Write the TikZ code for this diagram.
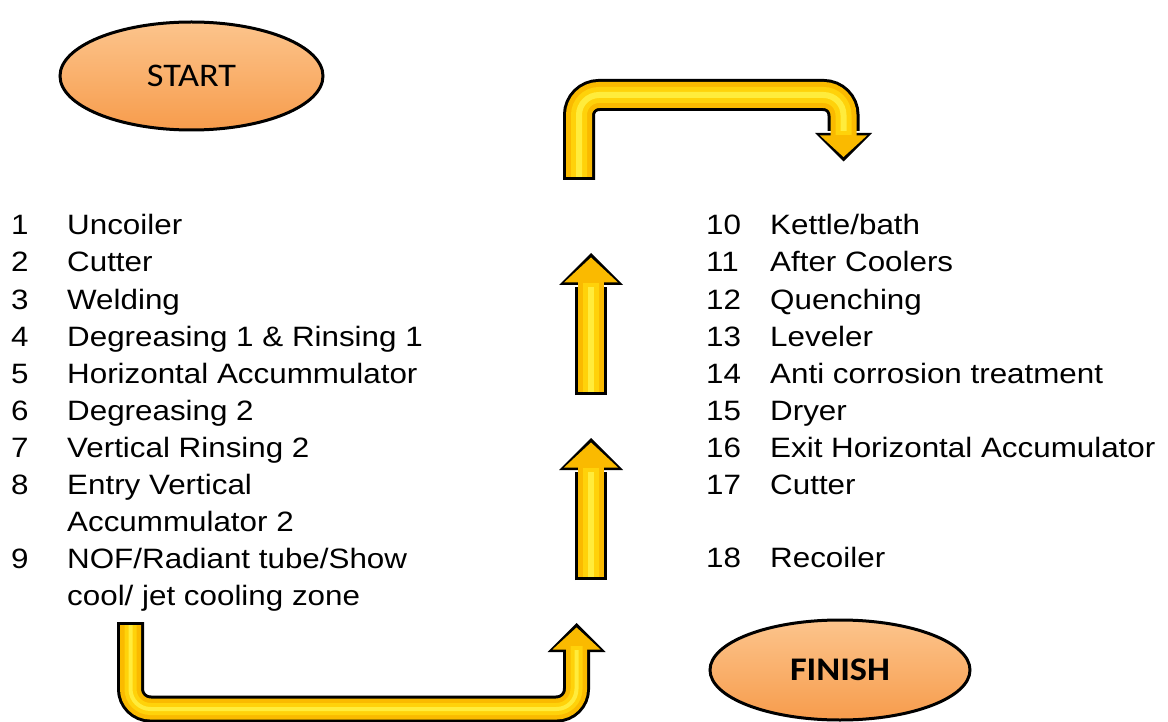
\documentclass[tikz,border=0pt]{standalone}
\usepackage{fontspec}
\setmainfont{Liberation Sans}[FakeStretch=1.12]
\newfontfamily\ovalfont{Carlito}[FakeStretch=1.1]
\usetikzlibrary{shapes.geometric,positioning}
\definecolor{ovalorange}{RGB}{247,156,76}
\definecolor{ovallight}{RGB}{252,196,140}
\definecolor{pipegold}{RGB}{250,186,0}
\definecolor{pipemid}{RGB}{255,210,10}
\definecolor{pipeshine}{RGB}{255,236,60}
\tikzset{
  oval/.style={ellipse, draw=black, line width=3pt, top color=ovallight,
    bottom color=ovalorange, inner sep=0pt, font=\ovalfont\fontsize{33}{33}\selectfont},
  num/.style={anchor=base west, inner sep=0pt, font=\fontsize{28}{37}\selectfont},
  stepitem/.style={anchor=base west, inner sep=0pt, align=left,
    font=\fontsize{28}{37}\selectfont},
  pipeedge/.style={draw=black, line width=32pt, rounded corners=20pt},
  pipebody/.style={draw=pipegold, line width=26pt, rounded corners=20pt},
  pipemiddle/.style={draw=pipemid, line width=16pt, rounded corners=20pt},
  pipeglow/.style={draw=pipeshine, line width=6pt, rounded corners=20pt},
}
% arrow heads: x, base y, half width
\newcommand\headup[3]{%
  \fill[black] (#1-#3,#2) -- (#1,#2-#3) -- (#1+#3,#2) -- cycle;
  \fill[pipegold] (#1-#3+5,#2-2.5) -- (#1,#2-#3+4.5) -- (#1+#3-5,#2-2.5) -- cycle;}
\newcommand\headdown[3]{%
  \fill[black] (#1-#3,#2) -- (#1,#2+#3) -- (#1+#3,#2) -- cycle;
  \fill[pipegold] (#1-#3+5,#2+2.5) -- (#1,#2+#3-4.5) -- (#1+#3-5,#2+2.5) -- cycle;}

\begin{document}
\begin{tikzpicture}[x=1pt, y=-1pt]
  \useasboundingbox (0,0) rectangle (1168,722);

  \node[oval, minimum width=263pt, minimum height=108pt] (start) at (191.5,76) {START};
  \node[oval, minimum width=260pt, minimum height=100pt,
    font=\ovalfont\bfseries\fontsize{33}{33}\selectfont] (finish) at (840,670) {FINISH};

  % left column (two-line items sit on their last line)
  \node[num] (n1) at (11,235) {1};
  \node[stepitem] (s1) at (67,235) {Uncoiler};
  \node[num] (n2) at (11,272) {2};
  \node[stepitem] (s2) at (67,272) {Cutter};
  \node[num] (n3) at (11,309) {3};
  \node[stepitem] (s3) at (67,309) {Welding};
  \node[num] (n4) at (11,346) {4};
  \node[stepitem] (s4) at (67,346) {Degreasing 1 \& Rinsing 1};
  \node[num] (n5) at (11,383) {5};
  \node[stepitem] (s5) at (67,383) {Horizontal Accummulator};
  \node[num] (n6) at (11,420) {6};
  \node[stepitem] (s6) at (67,420) {Degreasing 2};
  \node[num] (n7) at (11,457) {7};
  \node[stepitem] (s7) at (67,457) {Vertical Rinsing 2};
  \node[num] (n8) at (11,494) {8};
  \node[stepitem] (s8) at (67,531) {Entry Vertical\\Accummulator 2};
  \node[num] (n9) at (11,568) {9};
  \node[stepitem] (s9) at (67,605) {NOF/Radiant tube/Show\\cool/ jet cooling zone};

  % right column
  \node[num] (n10) at (706,235) {10};
  \node[stepitem] (s10) at (770,235) {Kettle/bath};
  \node[num] (n11) at (706,272) {11};
  \node[stepitem] (s11) at (770,272) {After Coolers};
  \node[num] (n12) at (706,309) {12};
  \node[stepitem] (s12) at (770,309) {Quenching};
  \node[num] (n13) at (706,346) {13};
  \node[stepitem] (s13) at (770,346) {Leveler};
  \node[num] (n14) at (706,383) {14};
  \node[stepitem] (s14) at (770,383) {Anti corrosion treatment};
  \node[num] (n15) at (706,420) {15};
  \node[stepitem] (s15) at (770,420) {Dryer};
  \node[num] (n16) at (706,457) {16};
  \node[stepitem] (s16) at (770,457) {Exit Horizontal Accumulator};
  \node[num] (n17) at (706,494) {17};
  \node[stepitem] (s17) at (770,494) {Cutter};
  \node[num] (n18) at (706,567) {18};
  \node[stepitem] (s18) at (770,567) {Recoiler};

  % U-turn along the bottom
  \coordinate (ua) at (130.5,622);
  \coordinate (ub) at (130.5,709);
  \coordinate (uc) at (576.5,709);
  \coordinate (ud) at (576.5,650);
  \draw[pipeedge, line width=27pt] (ua) -- (ub) -- (uc) -- (ud);
  \headup{576.5}{652}{29}
  \draw[pipebody, line width=21pt] ([yshift=-3pt]ua) -- (ub) -- (uc) -- ([yshift=8pt]ud);
  \draw[pipemiddle, line width=12pt] ([yshift=-3pt]ua) -- (ub) -- (uc) -- ([yshift=4pt]ud);
  \draw[pipeglow, line width=4pt] ([yshift=-3pt]ua) -- (ub) -- (uc) -- (ud);

  % two straight arrows up
  \coordinate (la) at (591,580);
  \coordinate (lb) at (591,472);
  \draw[pipeedge] (la) -- (lb);
  \headup{591}{470}{32}
  \draw[pipebody] ([yshift=3pt]la) -- ([yshift=8pt]lb);
  \draw[pipemiddle] ([yshift=3pt]la) -- ([yshift=4pt]lb);
  \draw[pipeglow] ([yshift=3pt]la) -- (lb);

  \coordinate (ma) at (591,395);
  \coordinate (mb) at (591,287);
  \draw[pipeedge] (ma) -- (mb);
  \headup{591}{285}{32}
  \draw[pipebody] ([yshift=3pt]ma) -- ([yshift=8pt]mb);
  \draw[pipemiddle] ([yshift=3pt]ma) -- ([yshift=4pt]mb);
  \draw[pipeglow] ([yshift=3pt]ma) -- (mb);

  % bend over the top
  \coordinate (ta) at (579,180);
  \coordinate (tb) at (579,95);
  \coordinate (tc) at (843.5,95);
  \coordinate (td) at (843.5,131);
  \draw[pipeedge] (ta) -- (tb) -- (tc) -- (td);
  \headdown{843.5}{133}{28.5}
  \draw[pipebody] ([yshift=3pt]ta) -- (tb) -- (tc) -- ([yshift=-8pt]td);
  \draw[pipemiddle] ([yshift=3pt]ta) -- (tb) -- (tc) -- ([yshift=-4pt]td);
  \draw[pipeglow] ([yshift=3pt]ta) -- (tb) -- (tc) -- (td);
\end{tikzpicture}
\end{document}
